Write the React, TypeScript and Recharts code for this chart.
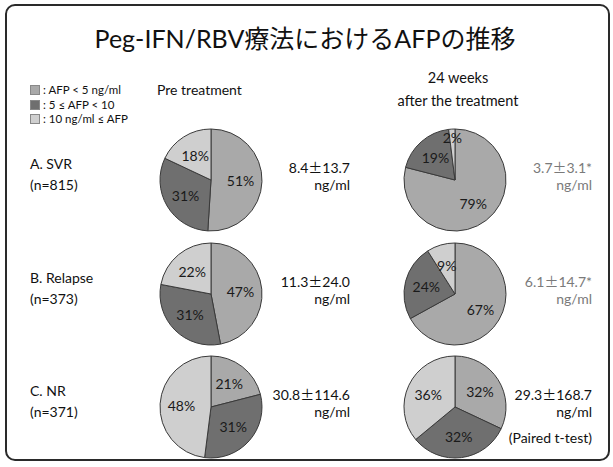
import { Cell, Pie, PieChart } from 'recharts'

// AFP bands, in the order the slices run clockwise from 12 o'clock
const bands = ['AFP < 5 ng/ml', '5 ≤ AFP < 10', '10 ng/ml ≤ AFP']
const bandColors = ['#a9a9a9', '#6f6f6f', '#cfcfcf']

// percent of patients in each band
const svrPre = [51, 31, 18]
const svrPost = [79, 19, 2]
const relapsePre = [47, 31, 22]
const relapsePost = [67, 24, 9]
const nrPre = [21, 31, 48]
const nrPost = [32, 32, 36]

const groups = ['A. SVR', 'B. Relapse', 'C. NR']
const counts = ['(n=815)', '(n=373)', '(n=371)']
// mean ± SD, split around the ± sign
const preMeans = [['8.4', '13.7'], ['11.3', '24.0'], ['30.8', '114.6']]
const postMeans = [['3.7', '3.1*'], ['6.1', '14.7*'], ['29.3', '168.7']]
const postSignificant = [true, true, false]

const W = 613
const H = 467
const FONT = "Lato, 'Noto Sans CJK JP', sans-serif"
const CJK = "'Noto Sans CJK JP', sans-serif"
const RADIAN = Math.PI / 180

const rowY = [175, 289, 402]
const preX = 206
const postX = 450
const R = 51

const toRows = (vals: number[]) => vals.map((v, i) => ({ name: bands[i], value: v }))

const pies = [
  { key: 'svr-pre', data: svrPre, cx: preX, cy: rowY[0] },
  { key: 'svr-post', data: svrPost, cx: postX, cy: rowY[0] },
  { key: 'rel-pre', data: relapsePre, cx: preX, cy: rowY[1] },
  { key: 'rel-post', data: relapsePost, cx: postX, cy: rowY[1] },
  { key: 'nr-pre', data: nrPre, cx: preX, cy: rowY[2] },
  { key: 'nr-post', data: nrPost, cx: postX, cy: rowY[2] },
]

const sliceLabel = (p: any) => {
  // tiny slices get their label pushed out toward the rim
  const r = p.outerRadius * (p.value < 5 ? 0.84 : 0.58)
  const x = p.cx + r * Math.cos(-p.midAngle * RADIAN)
  const y = p.cy + r * Math.sin(-p.midAngle * RADIAN)
  return (
    <text x={x} y={y} textAnchor="middle" dominantBaseline="central"
      fontFamily={FONT} fontSize={14} fill="#1a1a1a">
      {p.value}%
    </text>
  )
}

const txt = (extra: React.CSSProperties): React.CSSProperties => ({
  position: 'absolute', fontFamily: FONT, whiteSpace: 'nowrap', lineHeight: 1, ...extra,
})

const meanSd = (m: string[]) => (
  <>
    {m[0]}<span style={{ fontFamily: CJK }}>±</span>{m[1]}
  </>
)

export default function App() {
  return (
    <div style={{ position: 'absolute', left: 0, top: 0, width: W, height: H, background: '#fff' }}>
      <div style={{ position: 'absolute', left: 5, top: 4, width: 601, height: 453,
        border: '2px solid #2a2a2a', borderRadius: 10 }} />

      <PieChart width={W} height={H} style={{ position: 'absolute', left: 0, top: 0 }}>
        {pies.map((p) => (
          <Pie key={p.key} data={toRows(p.data)} dataKey="value" nameKey="name"
            cx={p.cx} cy={p.cy} outerRadius={R} startAngle={90} endAngle={-270}
            stroke="#3a3a3a" strokeWidth={1} label={sliceLabel} labelLine={false}
            isAnimationActive={false}>
            {p.data.map((_, i) => <Cell key={i} fill={bandColors[i]} />)}
          </Pie>
        ))}
      </PieChart>

      <div style={txt({ left: 0, width: 610, top: 26, textAlign: 'center', fontSize: 25, color: '#111' })}>
        Peg-IFN/RBV療法におけるAFPの推移
      </div>

      {bands.map((b, i) => (
        <div key={b} style={txt({ left: 30, top: 84 + i * 14.5, fontSize: 11.5, color: '#111' })}>
          <span style={{ display: 'inline-block', width: 8, height: 8, marginRight: 3,
            background: bandColors[i], border: '1px solid #888', verticalAlign: -1 }} />
          : {b}
        </div>
      ))}

      <div style={txt({ left: 157, top: 83, fontSize: 14, color: '#111' })}>Pre treatment</div>
      <div style={txt({ left: 378, width: 160, top: 71, textAlign: 'center', fontSize: 14.5, color: '#111' })}>24 weeks</div>
      <div style={txt({ left: 378, width: 160, top: 94, textAlign: 'center', fontSize: 14.5, color: '#111' })}>after the treatment</div>

      {groups.map((g, i) => (
        <div key={g}>
          <div style={txt({ left: 30, top: rowY[i] - 18, fontSize: 14, color: '#111' })}>{g}</div>
          <div style={txt({ left: 30, top: rowY[i] + 3, fontSize: 14, color: '#111' })}>{counts[i]}</div>
          <div style={txt({ right: W - 350, top: rowY[i] - 15, fontSize: 14, color: '#111', textAlign: 'right' })}>
            {meanSd(preMeans[i])}<br /><span style={{ display: 'inline-block', marginTop: 3 }}>ng/ml</span>
          </div>
          <div style={txt({ right: W - 592, top: rowY[i] - 15, fontSize: 14, textAlign: 'right',
            color: postSignificant[i] ? '#7a7a7a' : '#111' })}>
            {meanSd(postMeans[i])}<br /><span style={{ display: 'inline-block', marginTop: 3 }}>ng/ml</span>
          </div>
        </div>
      ))}

      <div style={txt({ right: W - 592, top: 431, fontSize: 14, color: '#111' })}>(Paired t-test)</div>
    </div>
  )
}
